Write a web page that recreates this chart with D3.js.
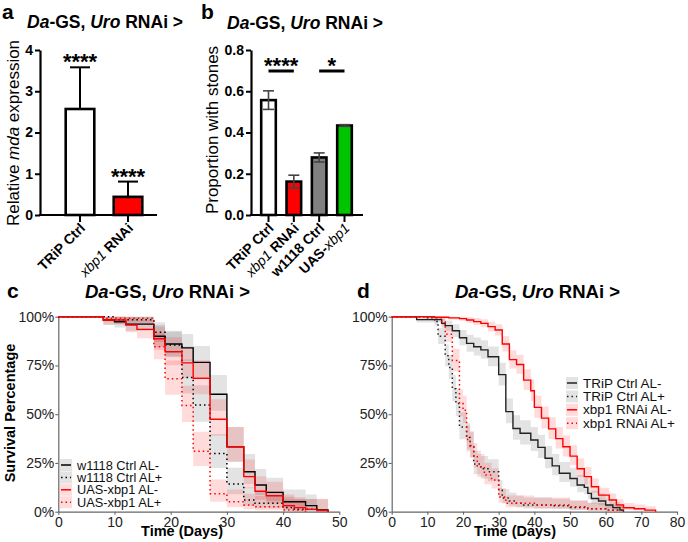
<!DOCTYPE html>
<html><head><meta charset="utf-8">
<script src="https://cdn.jsdelivr.net/npm/d3@7"></script>
<style>body{margin:0;background:#fff} svg{display:block} text{font-family:"Liberation Sans",Arial,sans-serif}</style>
</head><body><svg id="fig" width="688" height="542"></svg>
<script>
// ---------- DATA ----------
// panel a
const aCats = ["TRiP Ctrl", "xbp1 RNAi"];
const aVals = [2.57, 0.44];
const aErr = [1.01, 0.37];
const aStars = ["****", "****"];
const aTicks = [0, 1, 2, 3, 4];
// panel b
const bCats = ["TRiP Ctrl", "xbp1 RNAi", "w1118 Ctrl", "UAS-xbp1"];
const bVals = [0.557, 0.162, 0.279, 0.434];
const bErr = [0.045, 0.031, 0.022, 0.004];
const bTicks = [0, 0.2, 0.4, 0.6, 0.8];
const bSigFrom = [0, 2];
const bSigTo = [1, 3];
const bSigLabel = ["****", "*"];
// panel c (survival, %)
const cNames = ["w1118 Ctrl AL-", "w1118 Ctrl AL+", "UAS-xbp1 AL-", "UAS-xbp1 AL+"];
const cDays1 = [0, 8, 10, 12, 17, 19, 22, 24, 27, 30, 33, 35, 37, 40, 44, 46, 48];
const cSurv1 = [100, 98.3, 97.4, 96.2, 90, 86, 84, 76.6, 60.2, 33.3, 20.5, 13.7, 9.9, 5.1, 3.1, 0.9, 0];
const cDays2 = [0, 10, 17, 19, 22, 24, 27, 30, 33, 35, 40, 42, 46];
const cSurv2 = [100, 98.5, 92, 85.5, 68.8, 54.7, 29.9, 14.2, 6, 4.3, 2.2, 1.2, 0];
const cDays3 = [0, 8, 12, 14, 17, 19, 22, 24, 27, 30, 33, 35, 37, 40, 42, 44, 46, 48];
const cSurv3 = [100, 98.3, 95.7, 93.5, 88.7, 82, 76.3, 68.4, 47.4, 33.3, 18, 10.5, 8.2, 3.1, 2.1, 1.2, 0.6, 0];
const cDays4 = [0, 8, 17, 19, 22, 24, 27, 30, 33, 35, 40, 44];
const cSurv4 = [100, 99.2, 84.6, 68.2, 54.5, 31, 9.2, 5.1, 3.4, 2.5, 0.9, 0];
const cN = [110, 110, 110, 110];
const cTicksX = [0, 10, 20, 30, 40, 50];
// panel d (survival, %)
const dNames = ["TRiP Ctrl AL-", "TRiP Ctrl AL+", "xbp1 RNAi AL-", "xbp1 RNAi AL+"];
const dDays1 = [0, 7, 14, 15, 17, 19, 21, 23, 25, 27, 30, 32, 34, 36, 39, 41, 43, 45, 47, 50, 52, 54, 55, 56, 58, 60, 62, 64, 65];
const dSurv1 = [100, 98.5, 96.6, 95.4, 92.8, 89.2, 86.3, 84.6, 83, 79.5, 70.3, 51.3, 42.7, 40.2, 36.8, 33, 27.4, 23.5, 19.7, 17, 13.7, 12.5, 9.4, 6.8, 5.5, 3.4, 2.1, 0.8, 0];
const dDays2 = [0, 10, 12, 13, 15, 16, 17, 18, 19, 21, 22, 23, 25, 27, 30, 31, 33, 35, 37, 45, 50, 55, 60, 65];
const dSurv2 = [100, 99.5, 97.5, 90, 80, 74, 63, 55.5, 43.5, 38, 34, 24.5, 22, 20.5, 11, 7, 5.5, 4.3, 3.5, 3, 2.2, 1.5, 0.8, 0];
const dDays3 = [0, 12, 16, 19, 21, 23, 25, 27, 29, 31, 33, 35, 37, 39, 40, 42, 44, 46, 48, 50, 52, 54, 56, 58, 61, 63, 65, 68, 71, 74];
const dSurv3 = [100, 99.7, 99.4, 99, 98.3, 97.5, 96.6, 94.9, 93.2, 86, 78, 75.5, 67.5, 62, 53.5, 48, 42.5, 37.5, 33.3, 28.5, 22, 18, 12.8, 8.5, 6, 3.5, 2, 1.5, 0.8, 0];
const dDays4 = [0, 12, 14, 15, 17, 19, 20, 21, 22, 23, 24, 26, 28, 30, 32, 40, 50, 55, 60, 65];
const dSurv4 = [100, 99.5, 97.4, 91, 77.5, 55.5, 52, 37, 33.5, 28.2, 23, 18.8, 16.3, 7.5, 4.3, 3.5, 2.5, 1.5, 0.8, 0];
const dN = [240, 200, 300, 200];
const dTicksX = [0, 10, 20, 30, 40, 50, 60, 70, 80];
const survTicksY = [0, 25, 50, 75, 100];

// ---------- STYLE ----------
const aFill = ["#ffffff", "#ff0000"];
const bFill = ["#ffffff", "#ff0000", "#808080", "#00c400"];
const svg = d3.select("#fig");

function italicSplit(lbl) {
  const parts = lbl.split(/(xbp1)/).filter(p => p.length);
  return parts.map(p => [p, p === "xbp1"]);
}
function addSegs(textSel, segs, italicWeight) {
  segs.forEach(s => {
    const t = textSel.append("tspan").text(s[0]);
    if (s[1]) { t.attr("font-style", "italic"); if (italicWeight) t.attr("font-weight", italicWeight); }
  });
}
const titleSegs = [["Da", true], ["-GS, ", false], ["Uro", true], [" RNAi >", false]];

function panelLabel(x, y, t) {
  svg.append("text").attr("x", x).attr("y", y).attr("font-size", 21).attr("font-weight", "bold").text(t);
}
function title(x, y, size) {
  const t = svg.append("text").attr("x", x).attr("y", y).attr("font-size", size).attr("font-weight", "bold");
  addSegs(t, titleSegs, null);
}

function barPanel(cfg) {
  const g = svg.append("g");
  const y = d3.scaleLinear().domain(cfg.yDomain).range([215, 50]);
  const x = d3.scalePoint().domain(cfg.cats).range(cfg.xRange);
  const ya = g.append("g").attr("transform", `translate(${cfg.axisX},0)`)
    .call(d3.axisLeft(y).tickValues(cfg.ticks).tickSize(5).tickPadding(2).tickSizeOuter(0).tickFormat(cfg.fmt));
  ya.select(".domain").attr("stroke", "#000").attr("stroke-width", 2.2);
  ya.selectAll(".tick line").attr("stroke", "#000").attr("stroke-width", 2);
  ya.selectAll(".tick text").attr("font-size", 14).attr("font-weight", "bold").attr("fill", "#000")
    .attr("font-family", "'Liberation Sans', Arial, sans-serif");
  g.append("line").attr("x1", cfg.axisX - 1).attr("x2", cfg.axisEnd).attr("y1", y(0)).attr("y2", y(0))
    .attr("stroke", "#000").attr("stroke-width", 2.2);
  g.selectAll("rect.bar").data(cfg.vals).join("rect").attr("class", "bar")
    .attr("x", (d, i) => x(cfg.cats[i]) - cfg.bw / 2 + 1.2)
    .attr("y", d => y(d))
    .attr("width", cfg.bw - 2.4)
    .attr("height", d => y(0) - y(d))
    .attr("fill", (d, i) => cfg.fill[i])
    .attr("stroke", "#000").attr("stroke-width", 2.6);
  cfg.vals.forEach((v, i) => {
    const cx = x(cfg.cats[i]);
    const top = y(v + cfg.err[i]);
    const bot = cfg.twoSided ? y(v - cfg.err[i]) : y(v);
    g.append("line").attr("x1", cx).attr("x2", cx).attr("y1", bot).attr("y2", top)
      .attr("stroke", cfg.errColor).attr("stroke-width", cfg.errW);
    g.append("line").attr("x1", cx - cfg.cap / 2).attr("x2", cx + cfg.cap / 2).attr("y1", top).attr("y2", top)
      .attr("stroke", cfg.errColor).attr("stroke-width", cfg.errW);
    if (cfg.twoSided) g.append("line").attr("x1", cx - cfg.cap / 2).attr("x2", cx + cfg.cap / 2).attr("y1", bot).attr("y2", bot)
      .attr("stroke", cfg.errColor).attr("stroke-width", cfg.errW);
  });
  cfg.cats.forEach(c => {
    const cx = x(c);
    g.append("line").attr("x1", cx).attr("x2", cx).attr("y1", y(0)).attr("y2", y(0) + 7)
      .attr("stroke", "#000").attr("stroke-width", 2);
    const t = g.append("text").attr("transform", `translate(${cx + 6},${y(0) + 14}) rotate(-45)`)
      .attr("text-anchor", "end").attr("font-size", 14).attr("font-weight", "bold");
    addSegs(t, italicSplit(c), "normal");
  });
  const yl = g.append("text").attr("transform", `translate(${cfg.labelX},${cfg.labelY}) rotate(-90)`)
    .attr("text-anchor", "middle").attr("font-size", 17);
  addSegs(yl, cfg.ylabel, null);
  return {x, y, g};
}

// ---------- PANEL A ----------
panelLabel(2, 19, "a");
title(27, 28, 17.5);
const A = barPanel({cats: aCats, vals: aVals, err: aErr, yDomain: [0, 4], ticks: aTicks, fmt: d3.format("d"),
  xRange: [80, 128], axisX: 40, axisEnd: 157, bw: 31, fill: aFill, twoSided: false, errColor: "#000", errW: 2, cap: 20,
  labelX: 19, labelY: 133, ylabel: [["Relative ", false], ["mda", true], [" expression", false]]});
aVals.forEach((v, i) => {
  A.g.append("text").attr("x", A.x(aCats[i])).attr("y", A.y(v + aErr[i]) + 2).attr("text-anchor", "middle")
    .attr("font-size", 22).attr("font-weight", "bold").text(aStars[i]);
});

// ---------- PANEL B ----------
panelLabel(201, 19, "b");
title(227, 29, 17.5);
const B = barPanel({cats: bCats, vals: bVals, err: bErr, yDomain: [0, 0.8], ticks: bTicks, fmt: d3.format(".1f"),
  xRange: [268.5, 344.5], axisX: 251, axisEnd: 363, bw: 17, fill: bFill, twoSided: true, errColor: "#444", errW: 1.6, cap: 11,
  labelX: 218, labelY: 130, ylabel: [["Proportion with stones", false]]});
bSigFrom.forEach((f, i) => {
  const x1 = B.x(bCats[f]), x2 = B.x(bCats[bSigTo[i]]);
  B.g.append("line").attr("x1", x1).attr("x2", x2).attr("y1", 71).attr("y2", 71).attr("stroke", "#000").attr("stroke-width", 3);
  B.g.append("text").attr("x", (x1 + x2) / 2).attr("y", 73).attr("text-anchor", "middle")
    .attr("font-size", 22).attr("font-weight", "bold").text(bSigLabel[i]);
});

// ---------- SURVIVAL PANELS ----------
function survPanel(cfg) {
  const g = svg.append("g");
  const x = d3.scaleLinear().domain(cfg.xDomain).range(cfg.xRange);
  const y = d3.scaleLinear().domain([0, 100]).range([511.7, 316.7]);
  // confidence bands (log-transformed Greenwood, no censoring)
  cfg.series.forEach(s => {
    const band = [];
    for (let i = 0; i < s.days.length; i++) {
      const S = s.surv[i] / 100;
      if (S <= 0) { const p = band[band.length - 1]; band.push({t: s.days[i], lo: p.lo, hi: p.hi}); break; }
      const se = Math.sqrt((1 - S) / (s.n * S));
      band.push({t: s.days[i], lo: 100 * S * Math.exp(-1.96 * se), hi: 100 * Math.min(1, S * Math.exp(1.96 * se))});
    }
    g.append("path").datum(band)
      .attr("d", d3.area().curve(d3.curveStepAfter).x(d => x(d.t)).y0(d => y(d.lo)).y1(d => y(d.hi)))
      .attr("fill", s.band).attr("fill-opacity", s.bandOp);
  });
  const xa = g.append("g").attr("transform", "translate(0,511.7)")
    .call(d3.axisBottom(x).tickValues(cfg.ticksX).tickSize(3).tickPadding(2.5).tickSizeOuter(0));
  const ya = g.append("g").attr("transform", `translate(${cfg.xRange[0]},0)`)
    .call(d3.axisLeft(y).tickValues(survTicksY).tickSize(3).tickPadding(1).tickSizeOuter(0).tickFormat(d => d + "%"));
  [xa, ya].forEach(a => {
    a.select(".domain").attr("stroke", "#666").attr("stroke-width", 1.2);
    a.selectAll(".tick line").attr("stroke", "#666").attr("stroke-width", 1.1);
    a.selectAll(".tick text").attr("font-size", 14).attr("fill", "#222")
      .attr("font-family", "'Liberation Sans', Arial, sans-serif");
  });
  cfg.series.forEach(s => {
    const pts = s.days.map((t, i) => [t, s.surv[i]]);
    g.append("path").datum(pts)
      .attr("d", d3.line().curve(d3.curveStepAfter).x(d => x(d[0])).y(d => y(d[1])))
      .attr("fill", "none").attr("stroke", s.color).attr("stroke-width", s.dash ? 1.5 : 1.4)
      .attr("stroke-dasharray", s.dash ? "1.5 3" : null);
  });
  g.append("text").attr("x", cfg.xTitleX).attr("y", 536).attr("text-anchor", "middle")
    .attr("font-size", 14.5).attr("font-weight", "bold").text("Time (Days)");
  if (cfg.yTitle) g.append("text").attr("transform", "translate(15,413) rotate(-90)").attr("text-anchor", "middle")
    .attr("font-size", 14.5).attr("font-weight", "bold").text("Survival Percentage");
  cfg.series.forEach((s, i) => {
    const ry = cfg.legY + i * cfg.legStep;
    g.append("rect").attr("x", cfg.legX).attr("y", ry - 6).attr("width", 12).attr("height", 12)
      .attr("fill", s.band).attr("fill-opacity", s.bandOp);
    g.append("line").attr("x1", cfg.legX + 1).attr("x2", cfg.legX + 11).attr("y1", ry).attr("y2", ry)
      .attr("stroke", s.color).attr("stroke-width", 1.5).attr("stroke-dasharray", s.dash ? "1.5 3" : null);
    g.append("text").attr("x", cfg.legX + 17).attr("y", ry + 4.5).attr("font-size", cfg.legFont).attr("fill", "#111").text(s.name);
  });
}

panelLabel(7, 298, "c");
title(85, 298, 18.5);
survPanel({xDomain: [0, 50], xRange: [58.3, 339.3], ticksX: cTicksX, xTitleX: 182, yTitle: true,
  legX: 60, legY: 465, legStep: 12.4, legFont: 12.8,
  series: [
    {name: cNames[0], days: cDays1, surv: cSurv1, n: cN[0], color: "#000", band: "#000", bandOp: 0.11, dash: false},
    {name: cNames[1], days: cDays2, surv: cSurv2, n: cN[1], color: "#000", band: "#000", bandOp: 0.11, dash: true},
    {name: cNames[2], days: cDays3, surv: cSurv3, n: cN[2], color: "#f00", band: "#f00", bandOp: 0.14, dash: false},
    {name: cNames[3], days: cDays4, surv: cSurv4, n: cN[3], color: "#f00", band: "#f00", bandOp: 0.14, dash: true}
  ]});

panelLabel(357, 298, "d");
title(455, 298, 18.5);
survPanel({xDomain: [0, 80], xRange: [391.7, 677], ticksX: dTicksX, xTitleX: 515, yTitle: false,
  legX: 566, legY: 383, legStep: 13.4, legFont: 13.5,
  series: [
    {name: dNames[0], days: dDays1, surv: dSurv1, n: dN[0], color: "#222", band: "#000", bandOp: 0.11, dash: false},
    {name: dNames[1], days: dDays2, surv: dSurv2, n: dN[1], color: "#222", band: "#000", bandOp: 0.11, dash: true},
    {name: dNames[2], days: dDays3, surv: dSurv3, n: dN[2], color: "#f00", band: "#f00", bandOp: 0.14, dash: false},
    {name: dNames[3], days: dDays4, surv: dSurv4, n: dN[3], color: "#f00", band: "#f00", bandOp: 0.14, dash: true}
  ]});
</script></body></html>
